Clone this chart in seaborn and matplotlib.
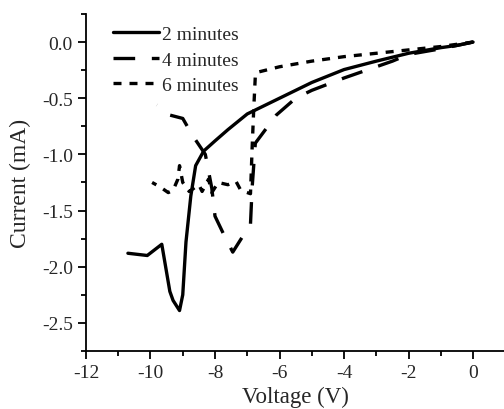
import pandas as pd
import seaborn as sns
import matplotlib.pyplot as plt
from matplotlib.ticker import MultipleLocator

# --- data (voltage in V, current in mA) ---
v_2min = [0, -0.5, -1, -2, -3, -4, -5, -6, -7, -7.6, -8.0, -8.35, -8.6, -8.75,
          -8.9, -9.0, -9.1, -9.3, -9.4, -9.65, -10.1, -10.7]
i_2min = [0, -0.03, -0.05, -0.1, -0.17, -0.245, -0.36, -0.5, -0.64, -0.78, -0.88,
          -0.97, -1.1, -1.37, -1.78, -2.25, -2.39, -2.3, -2.22, -1.8, -1.9, -1.88]

v_4min = [0, -1, -2, -2.5, -3, -4, -5, -5.5, -6.1, -6.75, -6.85, -6.9, -7.45,
          -7.75, -8.0, -8.1, -8.3, -8.7, -9.0, -9.4, -9.8]
i_4min = [0, -0.06, -0.11, -0.17, -0.22, -0.32, -0.43, -0.5, -0.65, -0.9, -1.3,
          -1.62, -1.87, -1.7, -1.55, -1.3, -1.0, -0.83, -0.68, -0.65, -0.56]

v_6min = [0, -0.5, -1, -2, -3, -4, -5, -6, -6.7, -6.75, -6.8, -6.85, -6.9,
          -7.2, -7.35, -7.6, -7.9, -8.1, -8.2, -8.4, -8.5, -8.8, -9.0, -9.1,
          -9.15, -9.3, -9.45, -9.7, -9.95]
i_6min = [0, -0.02, -0.04, -0.07, -0.1, -0.13, -0.17, -0.22, -0.27, -0.3, -0.6,
          -0.95, -1.35, -1.32, -1.24, -1.27, -1.25, -1.34, -1.22, -1.33, -1.27,
          -1.33, -1.25, -1.10, -1.22, -1.32, -1.34, -1.29, -1.25]

labels = ['2 minutes', '4 minutes', '6 minutes']

df = pd.concat([
    pd.DataFrame({'Voltage': v_2min, 'Current': i_2min, 'series': labels[0]}),
    pd.DataFrame({'Voltage': v_4min, 'Current': i_4min, 'series': labels[1]}),
    pd.DataFrame({'Voltage': v_6min, 'Current': i_6min, 'series': labels[2]}),
], ignore_index=True)

sns.set_style('ticks')
plt.rcParams['font.family'] = ['Liberation Serif', 'DejaVu Serif']
plt.rcParams['axes.unicode_minus'] = False

fig = plt.figure(figsize=(5.04, 4.10), dpi=100)
ax = fig.add_axes([0.1706, 0.1415, 0.832, 0.822])

sns.lineplot(data=df, x='Voltage', y='Current', hue='series', style='series',
             palette=['black'] * 3,
             dashes={labels[0]: '', labels[1]: (6.5, 5), labels[2]: (2.4, 2.4)},
             sort=False, estimator=None, linewidth=2.4, ax=ax)

ax.set_xlim(-12, 1)
ax.set_ylim(-2.75, 0.25)
ax.xaxis.set_major_locator(MultipleLocator(2))
ax.xaxis.set_minor_locator(MultipleLocator(1))
ax.yaxis.set_major_locator(MultipleLocator(0.5))
ax.yaxis.set_minor_locator(MultipleLocator(0.25))
ax.yaxis.set_major_formatter(plt.FuncFormatter(lambda v, p: f'{v:.1f}'))
ax.tick_params(which='major', direction='out', length=6, width=1.3,
               labelsize=14, color='black')
ax.tick_params(which='minor', direction='out', length=3.5, width=1.3, color='black')

for s in ['left', 'bottom']:
    ax.spines[s].set_linewidth(1.3)
    ax.spines[s].set_color('black')
ax.spines['top'].set_visible(False)
ax.spines['right'].set_visible(False)

ax.set_xlabel('Voltage (V)', fontsize=16.5, labelpad=3)
ax.set_ylabel('Current (mA)', fontsize=17, labelpad=8)

ax.legend(loc='upper left', bbox_to_anchor=(0.045, 0.99), frameon=False,
          fontsize=14, handlelength=2.4, handletextpad=0.15, labelspacing=0.42,
          borderaxespad=0.0, title=None)

fig.savefig('out.png', dpi=100)
